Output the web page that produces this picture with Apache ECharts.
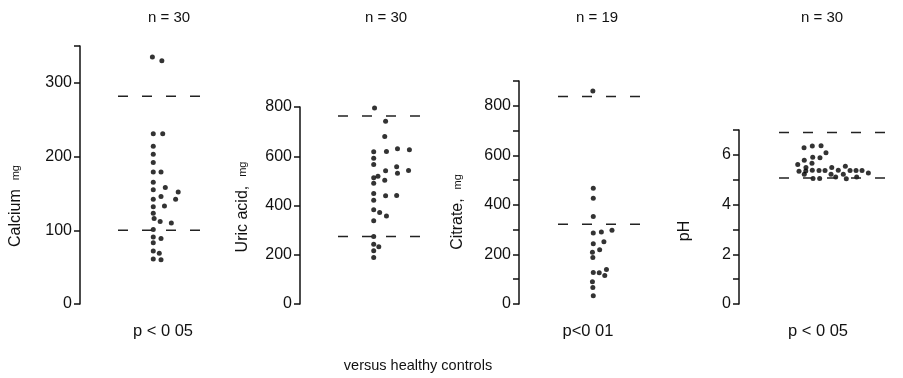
<!DOCTYPE html>
<html>
<head>
<meta charset="utf-8">
<script src="https://cdn.jsdelivr.net/npm/echarts@6/dist/echarts.min.js"></script>
<style>html,body{margin:0;padding:0;background:#fff}#c{width:903px;height:378px}</style>
</head>
<body>
<div id="c"></div>
<script>
// ---- data (x = horizontal jitter within the column, y = value) ----
const calciumPts = [[4.0,335],[5.1,330],[4.1,231],[5.2,231],[4.1,214],[4.1,203],[4.1,192],[4.1,179],[5.0,179],[4.1,165],[4.1,155],[5.5,158],[7.0,152],[4.1,142],[5.0,146],[6.7,142],[4.1,132],[5.4,133],[4.1,123],[4.2,116],[4.9,112],[6.2,110],[4.1,101],[4.1,91],[5.0,89],[4.1,83],[4.1,72],[4.8,69],[4.1,61],[5.0,60]];
const uricPts = [[4.3,796],[5.6,742],[5.5,680],[4.2,618],[5.7,619],[7.0,630],[8.4,626],[4.2,592],[4.2,567],[6.9,557],[5.6,541],[8.3,542],[7.0,531],[4.7,519],[4.2,513],[5.5,503],[4.2,490],[4.2,449],[5.6,440],[6.9,441],[4.2,421],[4.2,383],[4.9,372],[5.7,357],[4.2,338],[4.2,274],[4.2,243],[4.8,232],[4.2,216],[4.2,189]];
const citratePts = [[4.1,860],[4.15,467],[4.15,427],[4.15,353],[4.15,287],[5.1,291],[6.35,298],[4.15,243],[5.4,251],[4.05,209],[4.9,219],[4.1,188],[4.15,127],[4.85,126],[5.7,139],[5.5,115],[4.05,90],[4.1,67],[4.15,33]];
const phPts = [[2.34,6.29],[3.11,6.36],[3.93,6.37],[4.39,6.08],[2.36,5.78],[3.15,5.90],[3.83,5.88],[1.75,5.61],[3.08,5.66],[2.52,5.49],[1.87,5.34],[2.5,5.35],[3.11,5.38],[3.74,5.37],[4.3,5.37],[4.93,5.49],[5.54,5.38],[6.2,5.54],[6.64,5.37],[7.2,5.37],[7.76,5.37],[8.35,5.27],[2.36,5.22],[3.18,5.05],[3.8,5.05],[4.86,5.22],[5.3,5.11],[6.01,5.22],[6.29,5.04],[7.26,5.11]];

// reference (healthy-control) range limits
const calciumRef = [282, 100];
const uricRef = [763, 274];
const citrateRef = [837, 322];
const phRef = [6.9, 5.07];
// horizontal extent of the reference lines, in jitter units
const refSpan = [0, 10];

const calciumTicks = [0,100,200,300,350];
const calciumLabels = [0,100,200,300];
const uricTicks = [0,200,400,600,800];
const uricLabels = [0,200,400,600,800];
const citrateTicks = [0,100,200,300,400,500,600,700,800,900];
const citrateLabels = [0,200,400,600,800];
const phTicks = [0,1,2,3,4,5,6,7];
const phLabels = [0,2,4,6];

const axisNames = ['Calcium', 'Uric acid,', 'Citrate,', 'pH'];
const axisUnits = ['mg', 'mg', 'mg', ''];
const nLabels = ['n = 30', 'n = 30', 'n = 19', 'n = 30'];
const pLabels = ['p < 0 05', '', 'p<0 01', 'p < 0 05'];
const footer = 'versus healthy controls';

// ---- layout ----
const FONT = '"Liberation Sans", Arial, sans-serif';
const panels = [
  {pts: calciumPts, ref: calciumRef, max: 350, ticks: calciumTicks, labels: calciumLabels,
   grid: {left: 80, width: 124, top: 46, bottom: 74}, xMin: -4.42,
   nameX: 16, nameY: 206, titleX: 169, pX: 163},
  {pts: uricPts, ref: uricRef, max: 800, ticks: uricTicks, labels: uricLabels,
   grid: {left: 300, width: 123, top: 107, bottom: 74}, xMin: -4.47,
   nameX: 243, nameY: 207, titleX: 386, pX: 386},
  {pts: citratePts, ref: citrateRef, max: 900, ticks: citrateTicks, labels: citrateLabels,
   grid: {left: 519, width: 124, top: 81, bottom: 74}, xMin: -4.59,
   nameX: 458, nameY: 212, titleX: 597, pX: 588},
  {pts: phPts, ref: phRef, max: 7, ticks: phTicks, labels: phLabels,
   grid: {left: 739, width: 147, top: 130, bottom: 74}, xMin: -3.74,
   nameX: 685, nameY: 231, titleX: 822, pX: 818}
];

const grids = [], xAxes = [], yAxes = [], series = [], graphics = [];
panels.forEach((p, i) => {
  grids.push(Object.assign({containLabel: false, outerBoundsMode: 'none'}, p.grid));
  xAxes.push({gridIndex: i, type: 'value', min: p.xMin, max: 10, show: false});
  yAxes.push({
    gridIndex: i, type: 'value', min: 0, max: p.max, position: 'left',
    axisLine: {show: true, onZero: false, lineStyle: {color: '#111', width: 1.5}},
    axisTick: {show: true, inside: false, length: 6, customValues: p.ticks, lineStyle: {color: '#111', width: 1.5}},
    axisLabel: {customValues: p.labels, color: '#111', fontSize: 16, fontFamily: FONT, margin: 8},
    splitLine: {show: false}
  });
  p.ref.forEach(v => {
    series.push({
      type: 'line', xAxisIndex: i, yAxisIndex: i, silent: true,
      data: refSpan.map(x => [x, v]), symbol: 'none',
      lineStyle: {type: [10, 14], color: '#222', width: 1.5}
    });
  });
  series.push({
    type: 'scatter', xAxisIndex: i, yAxisIndex: i, data: p.pts,
    symbol: 'circle', symbolSize: 5, itemStyle: {color: '#000'}
  });
  graphics.push({
    type: 'text', x: p.nameX, y: p.nameY, rotation: Math.PI / 2,
    style: {
      text: axisNames[i] + (axisUnits[i] ? '  {s|' + axisUnits[i] + '}' : ''),
      rich: {s: {fontSize: 11, fontFamily: FONT, fill: '#111'}},
      fontSize: 16, fontFamily: FONT, fill: '#111', align: 'center', verticalAlign: 'middle'
    }
  });
  graphics.push({
    type: 'text', x: p.titleX, y: 18,
    style: {text: nLabels[i], fontSize: 15, fontFamily: FONT, fill: '#111', align: 'center', verticalAlign: 'middle'}
  });
  if (pLabels[i]) {
    graphics.push({
      type: 'text', x: p.pX, y: 331,
      style: {text: pLabels[i], fontSize: 16.5, fontFamily: FONT, fill: '#111', align: 'center', verticalAlign: 'middle'}
    });
  }
});
graphics.push({
  type: 'text', x: 418, y: 366,
  style: {text: footer, fontSize: 14.5, fontFamily: FONT, fill: '#111', align: 'center', verticalAlign: 'middle'}
});

const chart = echarts.init(document.getElementById('c'), null, {renderer: 'canvas'});
chart.setOption({
  animation: false,
  backgroundColor: '#fff',
  grid: grids, xAxis: xAxes, yAxis: yAxes, series: series,
  graphic: graphics
});
</script>
</body>
</html>
